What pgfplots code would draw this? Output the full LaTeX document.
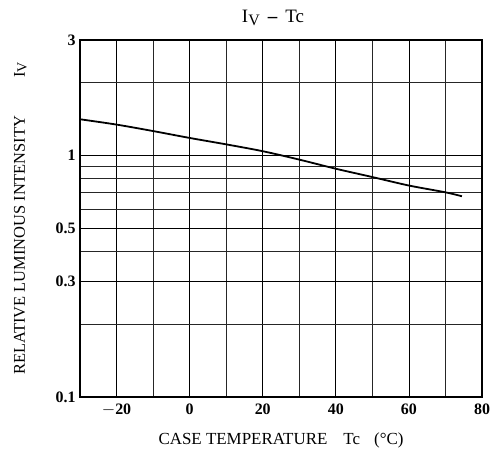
\documentclass[border=0pt]{standalone}
\usepackage{fontspec}
\setmainfont{Liberation Serif}
\usepackage{pgfplots}
\pgfplotsset{compat=1.18}
\begin{document}
\begin{tikzpicture}
\begin{axis}[
  scale only axis,
  width=402bp, height=357bp,
  xmin=-30, xmax=80,
  ymode=log, ymin=0.1, ymax=3,
  xtick={-20,0,20,40,60,80},
  xticklabels={$-$20,0,20,40,60,80},
  minor xtick={-10,10,30,50,70},
  ytick={0.1,0.3,0.5,1,3},
  yticklabels={0.1,0.3,0.5,1,3},
  minor ytick={0.2,0.4,0.6,0.7,0.8,0.9,2},
  grid=both,
  major grid style={black, line width=0.7pt},
  minor grid style={black!85, line width=0.6pt},
  major tick length=0pt, minor tick length=0pt,
  axis line style={black, line width=1.2pt},
  tick label style={font=\fontsize{16}{18}\selectfont\bfseries},
  /pgf/number format/assume math mode=true,
  xticklabel style={yshift=-3bp},
  yticklabel style={xshift=-1bp},
  xlabel={CASE TEMPERATURE\hspace{16bp}Tc\hspace{14bp}(°C)},
  xlabel style={font=\fontsize{17}{19}\selectfont, yshift=-10bp},
  ylabel={RELATIVE LUMINOUS INTENSITY\hspace{38bp}I\raisebox{-0.2ex}{\fontsize{14}{15}\selectfont V}},
  ylabel style={font=\fontsize{16.5}{18}\selectfont, yshift=22bp},
  title={I\raisebox{-0.3ex}{\fontsize{16}{17}\selectfont V}\hspace{8bp}\textbf{--}\hspace{8bp}Tc},
  title style={font=\fontsize{19}{21}\selectfont, yshift=5bp, xshift=-8bp},
]
\addplot[black, line width=1.8pt, smooth] coordinates {
  (-30,1.41) (-20,1.34) (-10,1.26) (0,1.18) (10,1.11) (20,1.04)
  (30,0.96) (40,0.88) (50,0.813) (60,0.75) (70,0.703) (74.5,0.677)
};
\end{axis}
\pgfresetboundingbox
\path (current axis.south west) ++(-80bp,-62bp) rectangle ++(490bp,459bp);
\end{tikzpicture}
\end{document}
